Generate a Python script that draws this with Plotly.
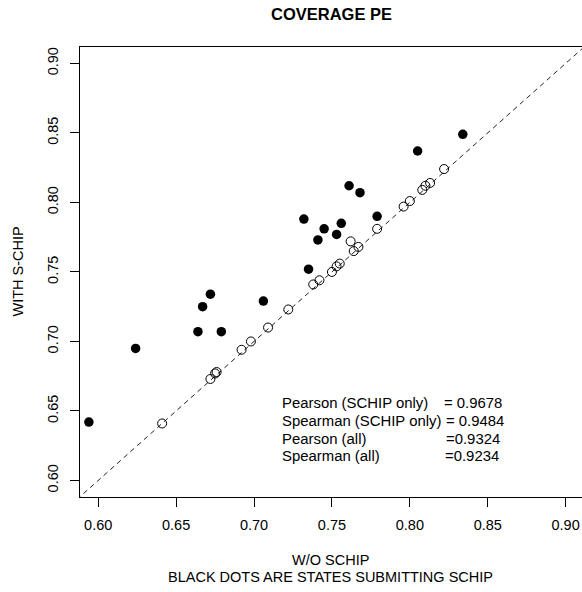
import plotly.graph_objects as go

# SCHIP states (black dots)
black_x = [0.594, 0.624, 0.664, 0.667, 0.672, 0.679, 0.706, 0.732, 0.735, 0.741,
           0.745, 0.753, 0.756, 0.761, 0.768, 0.779, 0.805, 0.834]
black_y = [0.642, 0.695, 0.707, 0.725, 0.734, 0.707, 0.729, 0.788, 0.752, 0.773,
           0.781, 0.777, 0.785, 0.812, 0.807, 0.790, 0.837, 0.849]

# other states (open circles)
open_x = [0.641, 0.672, 0.675, 0.676, 0.692, 0.698, 0.709, 0.722, 0.738, 0.742,
          0.750, 0.753, 0.755, 0.762, 0.764, 0.767, 0.779, 0.796, 0.800, 0.808,
          0.810, 0.813, 0.822]
open_y = [0.641, 0.673, 0.677, 0.678, 0.694, 0.700, 0.710, 0.723, 0.741, 0.744,
          0.750, 0.754, 0.756, 0.772, 0.765, 0.768, 0.781, 0.797, 0.801, 0.809,
          0.812, 0.814, 0.824]

diag = [0.5, 1.0]

tick_vals = [0.60, 0.65, 0.70, 0.75, 0.80, 0.85, 0.90]
tick_text = ["0.60", "0.65", "0.70", "0.75", "0.80", "0.85", "0.90"]

stat_labels = ["Pearson (SCHIP only)", "Spearman (SCHIP only)", "Pearson (all)", "Spearman (all)"]
stat_values = ["= 0.9678", "= 0.9484", "=0.9324", "=0.9234"]

FONT = "Liberation Sans, Arial, sans-serif"

fig = go.Figure()
fig.add_trace(go.Scatter(x=diag, y=diag, mode="lines",
                         line=dict(color="#222222", width=1, dash="5px,4px"),
                         hoverinfo="skip", showlegend=False))
fig.add_trace(go.Scatter(x=open_x, y=open_y, mode="markers",
                         marker=dict(symbol="circle-open", size=9, color="black",
                                     line=dict(width=1, color="black")),
                         showlegend=False))
fig.add_trace(go.Scatter(x=black_x, y=black_y, mode="markers",
                         marker=dict(symbol="circle", size=9.5, color="black"),
                         showlegend=False))

ann = []
label_x = 0.7166
val_x = [0.8204, 0.8221, 0.8219, 0.8214]
row_y = [0.6556, 0.6427, 0.6300, 0.6173]
for i in range(4):
    ann.append(dict(x=label_x, y=row_y[i], xref="x", yref="y", text=stat_labels[i],
                    showarrow=False, xanchor="left", yanchor="middle",
                    font=dict(family=FONT, size=14.9, color="black")))
    ann.append(dict(x=val_x[i], y=row_y[i], xref="x", yref="y", text=stat_values[i],
                    showarrow=False, xanchor="left", yanchor="middle",
                    font=dict(family=FONT, size=14.9, color="black")))

# title
ann.append(dict(x=0.5, y=1, xref="paper", yref="paper", text="<b>COVERAGE PE</b>",
                showarrow=False, xanchor="center", yanchor="middle", yshift=33,
                font=dict(family=FONT, size=16.5, color="black")))
# x axis title
ann.append(dict(x=0.5, y=0, xref="paper", yref="paper", text="W/O SCHIP",
                showarrow=False, xanchor="center", yanchor="middle", yshift=-63, xshift=-1,
                font=dict(family=FONT, size=14.5, color="black")))
ann.append(dict(x=0.5, y=0, xref="paper", yref="paper",
                text="BLACK DOTS ARE STATES SUBMITTING SCHIP",
                showarrow=False, xanchor="center", yanchor="middle", yshift=-80, xshift=-1,
                font=dict(family=FONT, size=14.5, color="black")))
# y axis title
ann.append(dict(x=0, y=0.5, xref="paper", yref="paper", text="WITH S-CHIP",
                showarrow=False, xanchor="center", yanchor="middle", xshift=-62.5,
                textangle=-90,
                font=dict(family=FONT, size=14.5, color="black")))

fig.update_layout(
    width=582, height=592,
    margin=dict(l=80, r=0, t=47, b=95, pad=0),
    paper_bgcolor="white", plot_bgcolor="white",
    font=dict(family=FONT, size=14.5, color="black"),
    annotations=ann,
    showlegend=False,
)
fig.update_xaxes(range=[0.5883, 0.9105], tickvals=tick_vals, ticktext=tick_text,
                 showgrid=False, zeroline=False, showline=True, linecolor="black",
                 linewidth=1, mirror=True, ticks="outside", ticklen=9, tickcolor="black",
                 ticklabelstandoff=6,
                 tickfont=dict(family=FONT, size=14.5, color="black"))
fig.update_yaxes(range=[0.5881, 0.9118], tickvals=tick_vals, ticktext=tick_text,
                 showgrid=False, zeroline=False, showline=True, linecolor="black",
                 linewidth=1, mirror=False, ticks="outside", ticklen=9, tickcolor="black",
                 tickangle=-90, ticklabelstandoff=6,
                 tickfont=dict(family=FONT, size=14.5, color="black"))

fig.write_html("out.html", config={"displayModeBar": False},
               post_script="document.body.style.margin='0';document.body.style.overflow='hidden';")
